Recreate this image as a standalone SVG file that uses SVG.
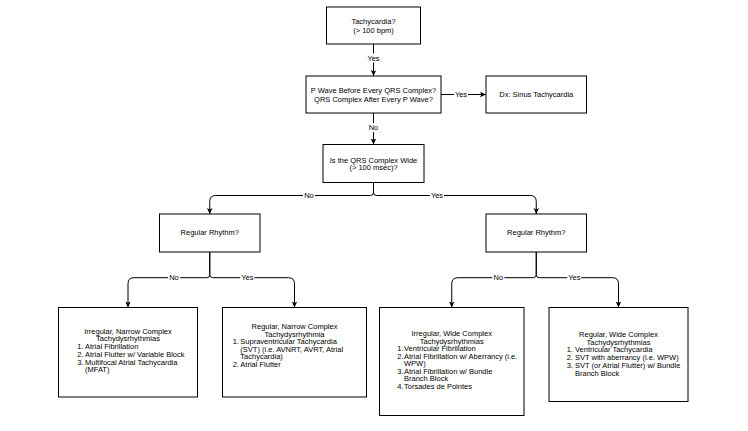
<svg xmlns="http://www.w3.org/2000/svg" width="748" height="431" viewBox="0 0 748 431">
<defs>
<style>
.box{fill:#fff;stroke:#000;stroke-width:1}
.t{font-family:"Liberation Sans",Arial,Helvetica,sans-serif;font-size:7.5px;fill:#000}
.c{text-anchor:middle}
.edge{fill:none;stroke:#000;stroke-width:1}
.lbg{fill:#fff}
</style>
<marker id="arr" markerUnits="userSpaceOnUse" markerWidth="7" markerHeight="6" refX="6" refY="2.75" orient="auto">
<path d="M0,0 L6,2.75 L0,5.5 L1.4,2.75 Z" fill="#000"/>
</marker>
</defs>
<rect width="748" height="431" fill="#fff"/>
<g id="connectors">
<path class="edge" d="M373.5,44 V76" marker-end="url(#arr)"/>
<path class="edge" d="M441,94.5 H486" marker-end="url(#arr)"/>
<path class="edge" d="M373.5,113 V144.5" marker-end="url(#arr)"/>
<path class="edge" d="M373.5,182.5 V192.5 Q373.5,195.5 370.5,195.5 H215.75 Q209.75,195.5 209.75,201.5 V214" marker-end="url(#arr)"/>
<path class="edge" d="M373.5,182.5 V192.5 Q373.5,195.5 376.5,195.5 H530.25 Q536.25,195.5 536.25,201.5 V214" marker-end="url(#arr)"/>
<path class="edge" d="M209.75,252 V274.7 Q209.75,277.7 206.75,277.7 H134 Q128,277.7 128,283.7 V307.5" marker-end="url(#arr)"/>
<path class="edge" d="M209.75,252 V274.7 Q209.75,277.7 212.75,277.7 H288.5 Q294.5,277.7 294.5,283.7 V307.5" marker-end="url(#arr)"/>
<path class="edge" d="M536.25,252 V274.7 Q536.25,277.7 533.25,277.7 H457.75 Q451.75,277.7 451.75,283.7 V307.5" marker-end="url(#arr)"/>
<path class="edge" d="M536.25,252 V274.7 Q536.25,277.7 539.25,277.7 H612.5 Q618.5,277.7 618.5,283.7 V307.5" marker-end="url(#arr)"/>
<g id="labels">
<rect class="lbg" x="366.5" y="53.5" width="14" height="9"/>
<text class="t c" x="373.5" y="60.7">Yes</text>
<rect class="lbg" x="454" y="90" width="14" height="9"/>
<text class="t c" x="461" y="97.2">Yes</text>
<rect class="lbg" x="367.5" y="123.2" width="12" height="9"/>
<text class="t c" x="373.5" y="130.4">No</text>
<rect class="lbg" x="303" y="191" width="12" height="9"/>
<text class="t c" x="309" y="198.2">No</text>
<rect class="lbg" x="430" y="191" width="14" height="9"/>
<text class="t c" x="437" y="198.2">Yes</text>
<rect class="lbg" x="168" y="273.2" width="12" height="9"/>
<text class="t c" x="174" y="280.4">No</text>
<rect class="lbg" x="240.3" y="273.2" width="14" height="9"/>
<text class="t c" x="247.3" y="280.4">Yes</text>
<rect class="lbg" x="492.3" y="273.2" width="12" height="9"/>
<text class="t c" x="498.3" y="280.4">No</text>
<rect class="lbg" x="567.3" y="273.2" width="14" height="9"/>
<text class="t c" x="574.3" y="280.4">Yes</text>
</g>
</g>
<g id="tachycardia">
<rect class="box" x="326.5" y="7" width="94" height="37"/>
<text class="t c" x="373.5" y="24.2">Tachycardia?</text>
<text class="t c" x="373.5" y="33.4">(&gt; 100 bpm)</text>
</g>
<g id="pwave">
<rect class="box" x="306" y="76" width="135" height="37"/>
<text class="t c" x="373.5" y="92.7">P Wave Before Every QRS Complex?</text>
<text class="t c" x="373.5" y="102">QRS Complex After Every P Wave?</text>
</g>
<g id="sinus">
<rect class="box" x="486" y="76" width="100.5" height="37"/>
<text class="t c" x="536.25" y="97.2">Dx: Sinus Tachycardia</text>
</g>
<g id="qrswide">
<rect class="box" x="323" y="144.5" width="101" height="38"/>
<text class="t c" x="373.5" y="162.7">Is the QRS Complex Wide</text>
<text class="t c" x="373.5" y="170.4">(&gt; 100 msec)?</text>
</g>
<g id="regular-narrow-q">
<rect class="box" x="159.5" y="214" width="100.5" height="38"/>
<text class="t c" x="209.75" y="235.4">Regular Rhythm?</text>
</g>
<g id="regular-wide-q">
<rect class="box" x="486" y="214" width="100.5" height="38"/>
<text class="t c" x="536.25" y="235.4">Regular Rhythm?</text>
</g>
<g id="irregular-narrow">
<rect class="box" x="58.5" y="307.5" width="139" height="89.5"/>
<text class="t c" x="128" y="333.7">Irregular, Narrow Complex</text>
<text class="t c" x="128" y="341.4">Tachydysrhythmias</text>
<text class="t" x="77.3" y="349.1">1.</text><text class="t" x="85" y="349.1">Atrial Fibrillation</text>
<text class="t" x="77.3" y="356.8">2.</text><text class="t" x="85" y="356.8">Atrial Flutter w/ Variable Block</text>
<text class="t" x="77.3" y="364.5">3.</text><text class="t" x="85" y="364.5">Multifocal Atrial Tachycardia</text>
<text class="t" x="85" y="372.2">(MFAT)</text>
</g>
<g id="regular-narrow">
<rect class="box" x="222.5" y="307.5" width="144" height="89.5"/>
<text class="t c" x="294.5" y="329.4">Regular, Narrow Complex</text>
<text class="t c" x="294.5" y="336.9">Tachydysrhythmia</text>
<text class="t" x="232.7" y="344.4">1.</text><text class="t" x="240.3" y="344.4">Supraventricular Tachycardia</text>
<text class="t" x="240.3" y="351.9">(SVT) (i.e. AVNRT, AVRT, Atrial</text>
<text class="t" x="240.3" y="359.4">Tachycardia)</text>
<text class="t" x="232.7" y="366.9">2.</text><text class="t" x="240.3" y="366.9">Atrial Flutter</text>
</g>
<g id="irregular-wide">
<rect class="box" x="379.5" y="307.5" width="144.5" height="108"/>
<text class="t c" x="451.75" y="336.2">Irregular, Wide Complex</text>
<text class="t c" x="451.75" y="343.7">Tachydysrhythmias</text>
<text class="t" x="397.3" y="351.2">1.</text><text class="t" x="404" y="351.2">Ventricular Fibrillation</text>
<text class="t" x="397.3" y="358.7">2.</text><text class="t" x="404" y="358.7">Atrial Fibrillation w/ Aberrancy (i.e.</text>
<text class="t" x="404" y="366.2">WPW)</text>
<text class="t" x="397.3" y="373.7">3.</text><text class="t" x="404" y="373.7">Atrial Fibrillation w/ Bundle</text>
<text class="t" x="404" y="381.2">Branch Block</text>
<text class="t" x="397.3" y="388.7">4.</text><text class="t" x="404" y="388.7">Torsades de Pointes</text>
</g>
<g id="regular-wide">
<rect class="box" x="549" y="307.5" width="139" height="94"/>
<text class="t c" x="618.5" y="336.7">Regular, Wide Complex</text>
<text class="t c" x="618.5" y="344.5">Tachydysrhythmias</text>
<text class="t" x="566.7" y="352.3">1.</text><text class="t" x="575" y="352.3">Ventricular Tachycardia</text>
<text class="t" x="566.7" y="360.1">2.</text><text class="t" x="575" y="360.1">SVT with aberrancy (i.e. WPW)</text>
<text class="t" x="566.7" y="367.9">3.</text><text class="t" x="575" y="367.9">SVT (or Atrial Flutter) w/ Bundle</text>
<text class="t" x="575" y="375.7">Branch Block</text>
</g>
</svg>
